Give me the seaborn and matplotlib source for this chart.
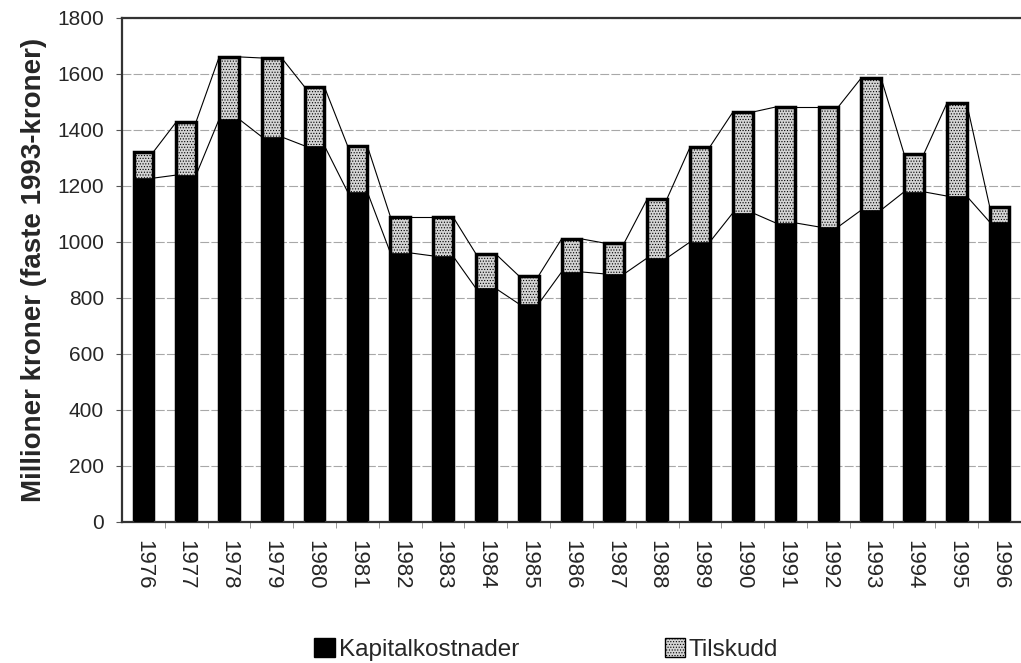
import numpy as np
import pandas as pd
import matplotlib
matplotlib.use("Agg")
import matplotlib.pyplot as plt
from matplotlib.patches import Patch
import seaborn as sns

# values (million NOK, 1993 prices)
years = [str(y) for y in range(1976, 1997)]
kapital = [1228, 1239, 1439, 1375, 1343, 1179, 961, 950, 834, 779, 893,
           886, 943, 1000, 1104, 1068, 1054, 1114, 1179, 1164, 1071]
total = [1321, 1429, 1661, 1657, 1553, 1343, 1090, 1090, 957, 879, 1011,
         996, 1154, 1339, 1464, 1482, 1482, 1586, 1314, 1496, 1125]
tilskudd = [t - k for t, k in zip(total, kapital)]

df = pd.DataFrame({"year": years, "Kapitalkostnader": kapital,
                   "Tilskudd": tilskudd, "total": total})

sns.set_style("white")
plt.rcParams["font.family"] = ["Liberation Sans", "DejaVu Sans"]
plt.rcParams["hatch.linewidth"] = 0.5

fig = plt.figure(figsize=(10.21, 6.63), dpi=100)
ax = fig.add_axes([0.1195, 0.2127, 0.8805, 0.7602])

w = 0.46
# top layer (Tilskudd) drawn as full-height bar, Kapitalkostnader over it
sns.barplot(data=df, x="year", y="total", color="#d4d4d4", width=w,
            edgecolor="black", linewidth=2.5, hatch="......", ax=ax,
            saturation=1, zorder=2)
sns.barplot(data=df, x="year", y="Kapitalkostnader", color="black", width=w,
            edgecolor="black", linewidth=0.5, ax=ax, saturation=1, zorder=3)

# series lines between bars
for i in range(len(years) - 1):
    xs = [i + w / 2, i + 1 - w / 2]
    ax.plot(xs, [total[i], total[i + 1]], color="black", lw=0.8, zorder=1)
    ax.plot(xs, [kapital[i], kapital[i + 1]], color="black", lw=0.8, zorder=1)

ax.set_ylim(0, 1800)
ax.set_xlim(-0.5, 20.23)
ax.set_yticks(range(0, 1801, 200))
ax.yaxis.grid(True, color="#a8a8a8", lw=0.8, ls=(0, (8, 2)))
ax.set_axisbelow(True)

for s in ["left", "top", "bottom"]:
    ax.spines[s].set_color("#333333")
    ax.spines[s].set_linestyle((0, (1, 1)))
    ax.spines[s].set_linewidth(1.6)
ax.spines["right"].set_visible(False)

ax.set_xlabel("")
ax.set_ylabel("Millioner kroner (faste 1993-kroner)", fontsize=20,
              fontweight="bold", labelpad=7)
ax.tick_params(axis="y", labelsize=15, length=4, direction="out", left=True,
               color="#555555", pad=9)
ax.tick_params(axis="x", labelsize=16, length=0, pad=13)
ax.set_xticks(np.arange(len(years)) + 0.5, minor=True)
ax.tick_params(axis="x", which="minor", length=4, bottom=True, color="#888888")
for lbl in ax.get_xticklabels():
    lbl.set_rotation(-90)
    lbl.set_va("top")
    lbl.set_ha("center")

handles = [Patch(facecolor="black", edgecolor="black", label="Kapitalkostnader"),
           Patch(facecolor="#d4d4d4", edgecolor="black", hatch="......",
                 label="Tilskudd")]
fig.legend(handles=handles, loc="lower center", bbox_to_anchor=(0.535, -0.03),
           ncol=2, frameon=False, fontsize=17.5, handlelength=0.85,
           handleheight=0.85, handletextpad=0.15, columnspacing=6.0)

fig.savefig("out.png", dpi=100)
